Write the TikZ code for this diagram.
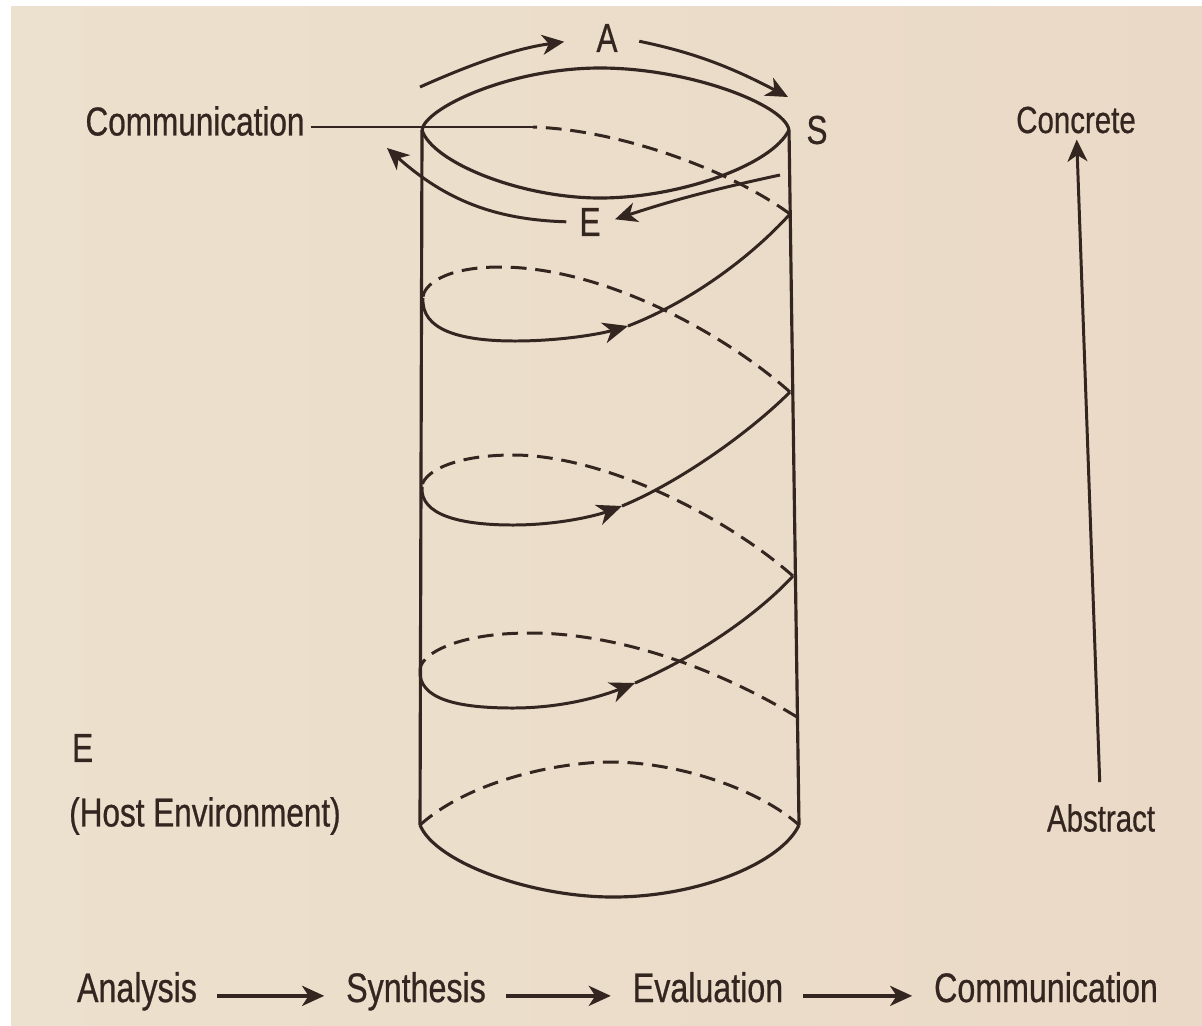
\documentclass[tikz,border=0pt]{standalone}
\usepackage{fontspec}
\newfontfamily\labelfont[FakeStretch=0.78, FakeBold=0.6]{Liberation Sans}
\usetikzlibrary{arrows.meta}
\definecolor{ink}{HTML}{33251F}
\definecolor{paperL}{HTML}{ECE1CE}
\definecolor{paperR}{HTML}{EAD9C6}

\begin{document}
\begin{tikzpicture}[x=0.02cm, y=-0.02cm,
  lbl/.style={font=\labelfont\fontsize{23}{27}\selectfont, text=ink},
  axlbl/.style={font=\labelfont\fontsize{21.5}{25}\selectfont, text=ink},
  stage/.style={lbl, font=\labelfont\fontsize{23.5}{27}\selectfont, anchor=base, text height=0.95em, text depth=0.25em},
  cyl/.style={draw=ink, line width=1.8pt, line join=round},
  front/.style={draw=ink, line width=1.7pt},
  back/.style={draw=ink, line width=1.7pt, dash pattern=on 9pt off 5pt},
  harr/.style={front, -{Stealth[length=5mm, width=4.2mm, inset=1.5mm]}},
  arr/.style={draw=ink, line width=1.7pt, -{Stealth[length=4.4mm, width=4mm, inset=1.3mm]}},
  flow/.style={arr, line width=2.2pt, shorten <=8pt, shorten >=9pt},
]
  \useasboundingbox (0,0) rectangle (1202,1025);
  \fill[white] (0,0) rectangle (1202,1025);
  \fill[left color=paperL, right color=paperR] (11,6) rectangle (1202,1025);

  \coordinate (tl) at (422,130);
  \coordinate (tr) at (789,130);
  \coordinate (bl) at (420,825);
  \coordinate (br) at (799,825);
  \coordinate (k1) at (533,127);
  \coordinate (r1) at (790,214);
  \coordinate (l2) at (423,298);
  \coordinate (h2) at (628,326);
  \coordinate (r2) at (790,392);
  \coordinate (l3) at (422,487);
  \coordinate (h3) at (622,506);
  \coordinate (r3) at (793,576);
  \coordinate (l4) at (420,670);
  \coordinate (h4) at (635,683);
  \coordinate (r4) at (797,717);
  \coordinate (aIn) at (420,87);
  \coordinate (aOut) at (788,97);
  \coordinate (eIn) at (780,175);
  \coordinate (eOut) at (387,148);

  \node[lbl] (A) at (607,38) {A};
  \node[lbl] (S) at (817,130) {S};
  \node[lbl] (E) at (590,222) {E};
  \node[lbl] (comm) at (195,121) {Communication};
  \node[lbl, anchor=west] (envE) at (66,748) {E};
  \node[lbl, anchor=west] (hostenv) at (63,816) {(Host Environment)};
  \node[axlbl] (concrete) at (1076,120) {Concrete};
  \node[axlbl] (abstract) at (1101,818) {Abstract};
  \node[stage] (ana) at (137,1002) {Analysis};
  \node[stage] (syn) at (416,1002) {Synthesis};
  \node[stage] (eva) at (708,1002) {Evaluation};
  \node[stage] (com) at (1046,1002) {Communication};

  \draw[cyl] (tl) .. controls (425,108) and (510,68) .. (600,68) .. controls (690,68) and (785,105) .. (tr);
  \draw[cyl] (tl) .. controls (432,162) and (520,198) .. (600,198) .. controls (680,198) and (772,165) .. (tr);
  \draw[cyl] (tl) -- (bl);
  \draw[cyl] (tr) -- (br);
  \draw[cyl] (bl) .. controls (435,862) and (530,897) .. (613,897) .. controls (700,897) and (782,862) .. (br);
  \draw[back] (bl) .. controls (470,780) and (560,762) .. (610,762) .. controls (680,762) and (760,790) .. (br);

  \draw[front] (comm.east |- k1) -- (k1);
  \draw[back] (r1) .. controls (730,170) and (620,130) .. (k1);
  \draw[back] (r2) .. controls (720,330) and (600,267) .. (500,267) .. controls (445,267) and (423,285) .. (l2);
  \draw[back] (r3) .. controls (720,512) and (600,455) .. (513,455) .. controls (450,455) and (422,474) .. (l3);
  \draw[back] (r4) .. controls (720,670) and (620,633) .. (530,633) .. controls (455,633) and (420,655) .. (l4);

  \draw[harr] (l2) .. controls (421,330) and (460,341) .. (515,341) .. controls (560,341) and (600,334) .. (h2);
  \draw[front] (h2) .. controls (690,302) and (750,258) .. (r1);
  \draw[harr] (l3) .. controls (420,515) and (460,525) .. (513,525) .. controls (560,525) and (598,515) .. (h3);
  \draw[front] (h3) .. controls (680,482) and (750,432) .. (r2);
  \draw[harr] (l4) .. controls (418,700) and (460,708) .. (513,708) .. controls (565,708) and (605,695) .. (h4);
  \draw[front] (h4) .. controls (700,655) and (760,612) .. (r3);

  \draw[arr, shorten >=15pt] (aIn) to[bend left=8] (A.west);
  \draw[arr, shorten <=9pt] (A.east) to[bend left=8] (aOut);
  \draw[arr, shorten >=5pt] (eIn) to[bend right=3] (E.east);
  \draw[arr, shorten <=4pt] (E.west) to[bend left=20] (eOut);

  \draw[arr, shorten <=9pt] (abstract) -- (concrete);

  \draw[flow] (ana) -- (syn);
  \draw[flow] (syn) -- (eva);
  \draw[flow] (eva) -- (com);
\end{tikzpicture}
\end{document}
